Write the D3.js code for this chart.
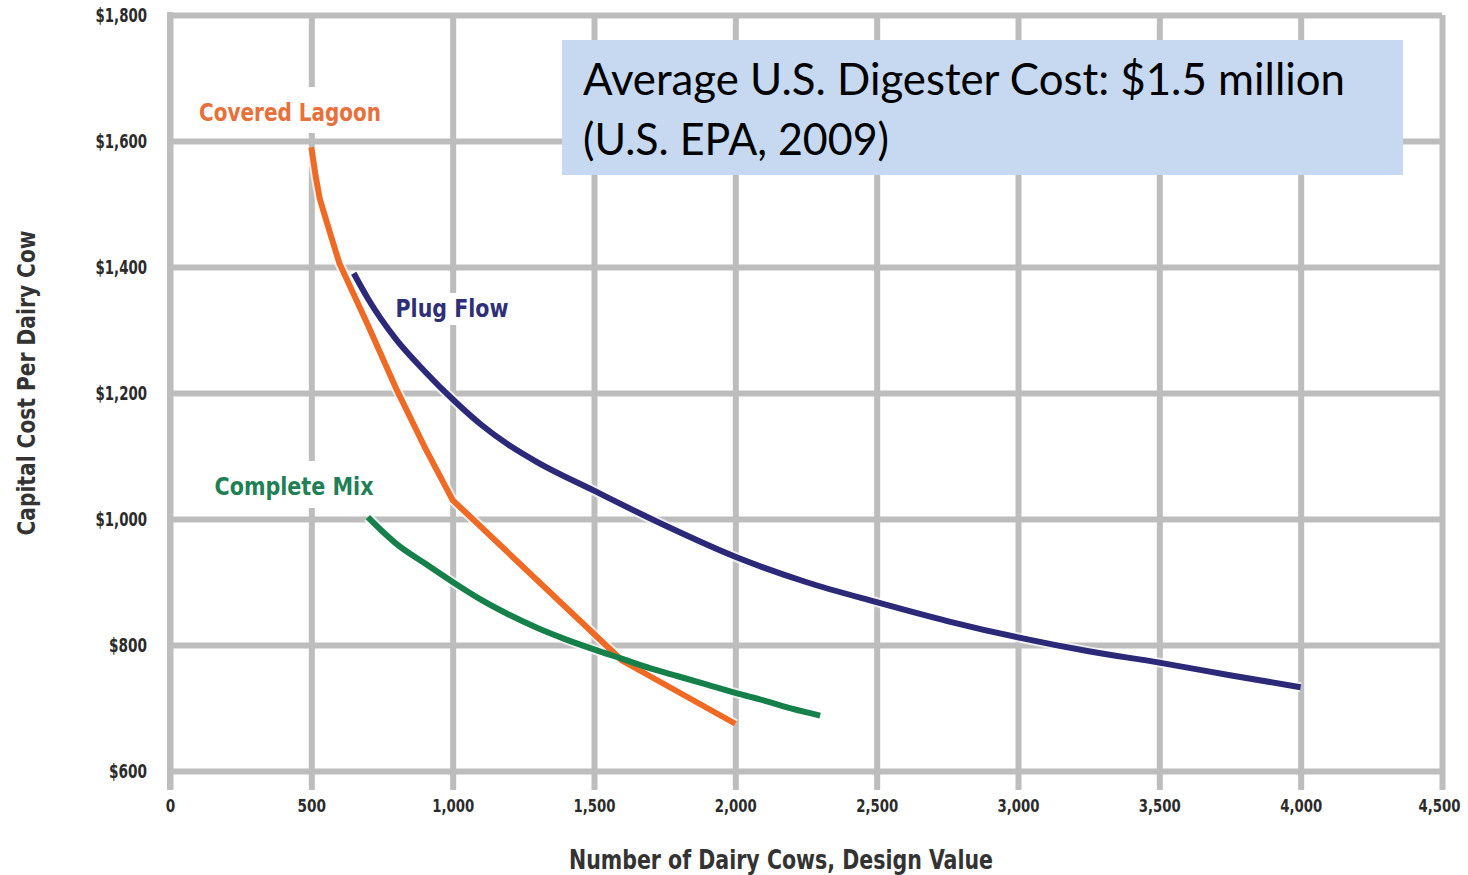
<!DOCTYPE html>
<html>
<head>
<meta charset="utf-8">
<script src="https://cdn.jsdelivr.net/npm/d3@7"></script>
<style>
  html, body { margin: 0; padding: 0; background: #ffffff; }
  svg { display: block; }
</style>
</head>
<body>
<svg id="chart" width="1468" height="875"></svg>
<script>
// ---------- DATA ----------
const xTicks = [0, 500, 1000, 1500, 2000, 2500, 3000, 3500, 4000, 4500];
const yTicks = [600, 800, 1000, 1200, 1400, 1600, 1800];

const seriesNames = ["Covered Lagoon", "Plug Flow", "Complete Mix"];

const coveredLagoonCows = [500, 515, 530, 550, 575, 600, 700, 800, 900, 1000, 1600, 2000];
const coveredLagoonCost = [1590, 1545, 1508, 1478, 1441, 1405, 1308, 1207, 1115, 1030, 775, 675];

const plugFlowCows = [650, 700, 800, 900, 1000, 1100, 1200, 1300, 1500, 1750, 2000, 2250, 2500, 2750, 3000, 3250, 3500, 3750, 4000];
const plugFlowCost = [1390, 1350, 1285, 1235, 1190, 1150, 1117, 1090, 1045, 990, 940, 900, 868, 838, 812, 790, 772, 752, 733];

const completeMixCows = [700, 750, 800, 900, 1000, 1100, 1200, 1300, 1400, 1500, 1600, 1700, 1800, 1900, 2000, 2100, 2200, 2300];
const completeMixCost = [1003, 981, 961, 930, 900, 872, 848, 827, 809, 793, 778, 763, 750, 737, 724, 712, 699, 688];

const xTitle = "Number of Dairy Cows, Design Value";
const yTitle = "Capital Cost Per Dairy Cow";
const noteLines = ["Average U.S. Digester Cost: $1.5 million", "(U.S. EPA, 2009)"];

// ---------- DRAWING ----------
const svg = d3.select("#chart");
const W = 1468, H = 875;
svg.append("rect").attr("width", W).attr("height", H).attr("fill", "#ffffff");

const x = d3.scaleLinear().domain([0, 4500]).range([170, 1442]);
const y = d3.scaleLinear().domain([600, 1800]).range([771, 15]);

const gridColor = "#bdbdbd";
const condensed = "'Liberation Sans Narrow', 'Arial Narrow', 'DejaVu Sans Condensed', 'Liberation Sans', sans-serif";
const textColor = "#2b2b2b";

function labelLen(s) {
  let n = 0;
  for (const c of s) n += (c === "," ? 4 : 9.5);
  return n;
}

// X axis with grid
const xAxis = d3.axisBottom(x)
  .tickValues(xTicks)
  .tickSize(-(790 - 15))
  .tickPadding(9)
  .tickFormat(d3.format(","));
const gx = svg.append("g").attr("transform", "translate(0,790)").call(xAxis);
gx.select(".domain").remove();
gx.selectAll(".tick line").attr("stroke", gridColor).attr("stroke-width", 6);
const lastTick = xTicks[xTicks.length - 1];
gx.selectAll(".tick text")
  .attr("font-family", condensed).attr("font-weight", "bold")
  .attr("font-size", 18).attr("fill", textColor)
  .attr("text-anchor", d => d === lastTick ? "end" : "middle")
  .attr("x", d => d === lastTick ? 18 : 0)
  .attr("textLength", d => labelLen(d3.format(",")(d)))
  .attr("lengthAdjust", "spacingAndGlyphs");

// Y axis with grid
const yAxis = d3.axisLeft(y)
  .tickValues(yTicks)
  .tickSize(-(1442 - 170))
  .tickPadding(23)
  .tickFormat(d => "$" + d3.format(",")(d));
const gy = svg.append("g").attr("transform", "translate(170,0)").call(yAxis);
gy.select(".domain").remove();
gy.selectAll(".tick line").attr("stroke", gridColor).attr("stroke-width", 6);
gy.selectAll(".tick text")
  .attr("font-family", condensed).attr("font-weight", "bold")
  .attr("font-size", 19).attr("fill", textColor)
  .attr("textLength", d => labelLen("$" + d3.format(",")(d)))
  .attr("lengthAdjust", "spacingAndGlyphs");

// left frame line
svg.append("line").attr("x1", x(0)).attr("x2", x(0)).attr("y1", y(1800) - 3).attr("y2", 790)
  .attr("stroke", gridColor).attr("stroke-width", 6);

// Series
const series = [
  { name: seriesNames[0], xs: coveredLagoonCows, ys: coveredLagoonCost, color: "#ef6a24", curve: d3.curveLinear },
  { name: seriesNames[1], xs: plugFlowCows, ys: plugFlowCost, color: "#2c2a78", curve: d3.curveMonotoneX },
  { name: seriesNames[2], xs: completeMixCows, ys: completeMixCost, color: "#16804a", curve: d3.curveMonotoneX }
];

function lineFor(curve) {
  return d3.line().x(d => x(d[0])).y(d => y(d[1])).curve(curve);
}

// Labels with white backgrounds (these interrupt the grid)
const labelSpecs = [
  { s: 0, cx: 290, cy: 113, w: 182, boxX: 190, boxY: 87, boxW: 200, boxH: 46, color: "#e8703a" },
  { s: 1, cx: 452, cy: 309, w: 113, boxX: 388, boxY: 293, boxW: 130, boxH: 32, color: "#2f2f78" },
  { s: 2, cx: 294, cy: 487, w: 159, boxX: 205, boxY: 461, boxW: 178, boxH: 47, color: "#1f7f55" }
];
labelSpecs.forEach(l => {
  svg.append("rect").attr("x", l.boxX).attr("y", l.boxY).attr("width", l.boxW).attr("height", l.boxH)
    .attr("fill", "#ffffff");
});

series.forEach(s => {
  const pts = s.xs.map((v, i) => [v, s.ys[i]]);
  svg.append("path").datum(pts).attr("d", lineFor(s.curve))
    .attr("fill", "none").attr("stroke", "#ffffff").attr("stroke-opacity", 0.7)
    .attr("stroke-width", 10).attr("stroke-linejoin", "round");
});
series.forEach(s => {
  const pts = s.xs.map((v, i) => [v, s.ys[i]]);
  svg.append("path").datum(pts).attr("d", lineFor(s.curve))
    .attr("fill", "none").attr("stroke", s.color)
    .attr("stroke-width", 6).attr("stroke-linejoin", "round").attr("stroke-linecap", "butt");
});

labelSpecs.forEach(l => {
  svg.append("text").attr("x", l.cx).attr("y", l.cy).attr("dy", "0.35em")
    .attr("text-anchor", "middle")
    .attr("font-family", condensed).attr("font-weight", "bold").attr("font-size", 24)
    .attr("fill", l.color)
    .attr("textLength", l.w).attr("lengthAdjust", "spacingAndGlyphs")
    .text(series[l.s].name);
});

// Axis titles
svg.append("text")
  .attr("transform", "translate(27,383) rotate(-90)")
  .attr("text-anchor", "middle").attr("dy", "0.35em")
  .attr("font-family", condensed).attr("font-weight", "bold").attr("font-size", 24)
  .attr("fill", "#333333")
  .attr("textLength", 305).attr("lengthAdjust", "spacingAndGlyphs")
  .text(yTitle);

svg.append("text")
  .attr("x", 781).attr("y", 860).attr("dy", "0.35em")
  .attr("text-anchor", "middle")
  .attr("font-family", condensed).attr("font-weight", "bold").attr("font-size", 27)
  .attr("fill", "#333333")
  .attr("textLength", 424).attr("lengthAdjust", "spacingAndGlyphs")
  .text(xTitle);

// Annotation box
svg.append("rect").attr("x", 562).attr("y", 40).attr("width", 841).attr("height", 135)
  .attr("fill", "#c6d9f0");
const noteWidths = [762, 306];
noteLines.forEach((t, i) => {
  svg.append("text")
    .attr("x", 583).attr("y", 95 + i * 60)
    .attr("font-family", "Lato, 'Open Sans', 'Noto Sans', sans-serif")
    .attr("font-size", 44).attr("fill", "#000000")
    .attr("textLength", noteWidths[i]).attr("lengthAdjust", "spacingAndGlyphs")
    .text(t);
});
</script>
</body>
</html>
